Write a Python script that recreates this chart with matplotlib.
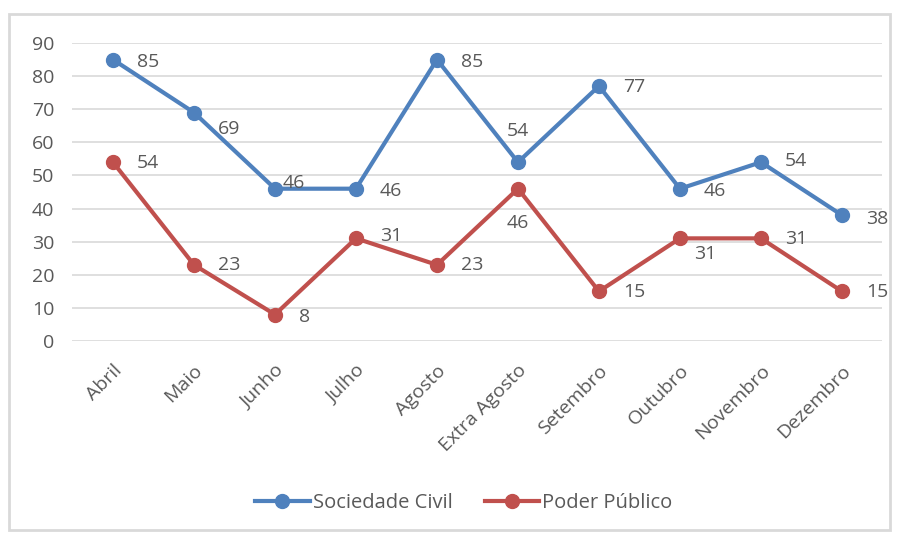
import matplotlib
matplotlib.use("Agg")
import matplotlib.pyplot as plt
from matplotlib.patches import Rectangle
import matplotlib.transforms as mtransforms

months = ["Abril", "Maio", "Junho", "Julho", "Agosto", "Extra Agosto",
          "Setembro", "Outubro", "Novembro", "Dezembro"]
sociedade_civil = [85, 69, 46, 46, 85, 54, 77, 46, 54, 38]
poder_publico = [54, 23, 8, 31, 23, 46, 15, 31, 31, 15]

# label offsets in pixels (dx, dy) relative to each point
soc_offsets = [(35, -2), (35, -16), (19, 6), (35, -2), (35, -2),
               (0, 31), (35, -1), (35, -2), (35, 1), (35, -4)]
pod_offsets = [(35, -1), (35, 0), (30, -2), (35, 2), (35, 0),
               (0, -34), (35, -1), (25, -16), (35, -1), (35, -1)]

blue = "#4F81BD"
red = "#C0504D"
text_col = "#595959"
grid_col = "#D9D9D9"

plt.rcParams["font.family"] = ["Open Sans", "DejaVu Sans"]

fig = plt.figure(figsize=(8.97, 5.33), dpi=100)
ax = fig.add_axes([0.0808, 0.3602, 0.903, 0.5591])

x = list(range(len(months)))
ax.plot(x, sociedade_civil, color=blue, lw=3, marker="o", ms=10,
        label="Sociedade Civil", solid_joinstyle="round")
ax.plot(x, poder_publico, color=red, lw=3, marker="o", ms=10,
        label="Poder Público", solid_joinstyle="round")

for i in x:
    ax.annotate(str(sociedade_civil[i]), (i, sociedade_civil[i]),
                xytext=soc_offsets[i], textcoords="offset pixels",
                ha="center", va="center", fontsize=14, color=text_col)
    ax.annotate(str(poder_publico[i]), (i, poder_publico[i]),
                xytext=pod_offsets[i], textcoords="offset pixels",
                ha="center", va="center", fontsize=14, color=text_col)

ax.set_xlim(-0.5, len(months) - 0.5)
ax.set_ylim(0, 90)
ax.set_yticks(range(0, 91, 10))
ax.grid(axis="y", color=grid_col, lw=1.2)
ax.set_axisbelow(True)
for s in ax.spines.values():
    s.set_visible(False)
ax.tick_params(length=0, colors=text_col, labelsize=14)
ax.tick_params(axis="y", pad=13)

ax.set_xticks(x)
ax.set_xticklabels(months, rotation=45, ha="right", va="center",
                   rotation_mode="anchor")
shift = mtransforms.ScaledTranslation(6 / 100, -22 / 100, fig.dpi_scale_trans)
for lbl in ax.get_xticklabels():
    lbl.set_transform(lbl.get_transform() + shift)

ax.legend(loc="center", bbox_to_anchor=(0.517, 0.056),
          bbox_transform=fig.transFigure, ncol=2, frameon=False,
          fontsize=14.5, labelcolor=text_col, handlelength=2.7,
          columnspacing=1.6, handletextpad=0.15)

fig.patches.append(Rectangle((9 / 897, 1 - 530 / 533), 881 / 897, 516 / 533,
                             transform=fig.transFigure, fill=False,
                             edgecolor=grid_col, lw=2))

plt.savefig("out.png", dpi=100)
